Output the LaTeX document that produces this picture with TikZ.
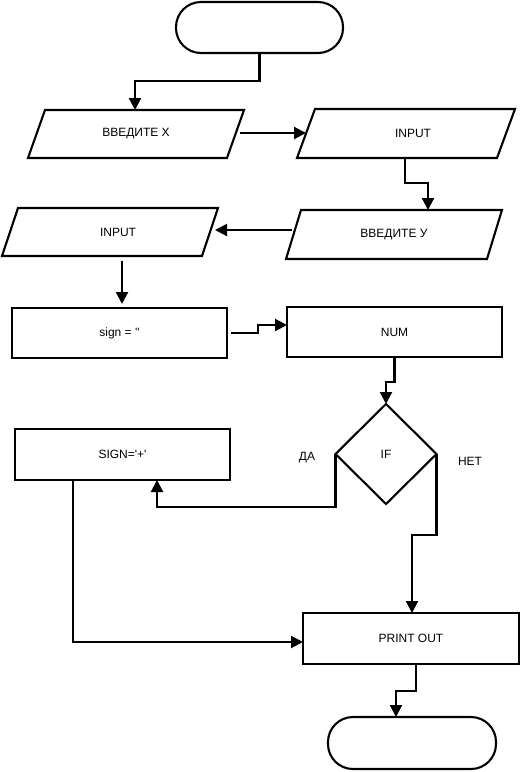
\documentclass[tikz,border=0pt]{standalone}
\usepackage{fontspec}
\setmainfont{Liberation Sans}[Ligatures=TeXOff]
\usetikzlibrary{shapes.geometric,arrows.meta}
\newcommand\drawpara[2][17pt]{\draw (#2.south west) -- ([xshift=#1]#2.north west) -- (#2.north east) -- ([xshift=-#1]#2.south east) -- cycle;}
\begin{document}
\begin{tikzpicture}[x=1pt,y=-1pt,line width=2.1pt,
  every node/.style={font=\fontsize{12}{14}\selectfont, inner sep=0pt, outer sep=0pt},
  rectbox/.style={draw, rectangle, minimum width=215pt, minimum height=50pt},
  term/.style={draw, rectangle, rounded corners=25pt, minimum width=167pt, minimum height=51pt},
  para/.style={rectangle, minimum width=216pt, minimum height=48pt},
  dec/.style={draw, diamond, aspect=1, minimum width=101pt, minimum height=100pt},
  arr/.style={-{Triangle[length=12pt,width=12pt]}},
  lbl/.style={}]
\useasboundingbox (0,0) rectangle (522,772);

\node[term] (start) at (259.5,27.5) {};
\node[para] (p1) at (136,134) {ВВЕДИТЕ Х};
\node[para, minimum width=218pt, minimum height=49pt] (p2) at (406,133.5) {\hspace*{14pt}INPUT};
\node[para, minimum height=49pt] (p3) at (394,234.5) {ВВЕДИТЕ У};
\node[para] (p4) at (110,232) {\hspace*{16pt}INPUT};
\drawpara{p1}
\drawpara[18pt]{p2}
\drawpara[15pt]{p3}
\drawpara[16pt]{p4}
\node[rectbox] (sign) at (119.5,333) {sign = ''};
\node[rectbox] (num) at (394.5,332) {NUM};
\node[dec] (if) at (386,454) {IF};
\node[rectbox, minimum height=51pt] (sign2) at (122.5,454.5) {SIGN='+'};
\node[rectbox, minimum width=216pt, minimum height=51pt] (print) at (411,638.5) {PRINT OUT};
\node[term, minimum width=168pt, minimum height=52pt] (stop) at (412,743) {};

\node[lbl] (yes) at (307,458) {ДА};
\node[lbl] (no) at (470,461) {НЕТ};

\draw[arr] (start.south) -- (start.south |- 0,81) -| (p1.north -| 135,0);
\draw[arr, shorten <=-4pt, shorten >=-9pt] (p1.east |- 0,133) -- (p2.west |- 0,133);
\draw[arr] (p2.south -| 405,0) -- (405,183) -| (p3.north -| 428,0);
\draw[arr, shorten <=-6pt, shorten >=-3pt] (p3.west |- 0,230) -- (p4.east |- 0,230);
\draw[arr, shorten <=5pt, shorten >=4pt] (p4.south -| 122,0) -- (sign.north -| 122,0);
\draw[arr, shorten <=4pt] (sign.east) -| (258,325) -- (num.west |- 0,325);
\draw[arr] (num.south) -- (num.south |- 0,382) -| (if.north);
\draw[arr] (if.west) -- (if.west |- 0,507) -| (sign2.south -| 157,0);
\draw[arr] (sign2.south -| 73,0) |- (print.west |- 0,642);
\draw[arr] (if.east) -- (if.east |- 0,535) -| (print.north -| 412,0);
\draw[arr] (print.south -| 416,0) -- (416,691) -| (stop.north -| 396,0);
\end{tikzpicture}
\end{document}
